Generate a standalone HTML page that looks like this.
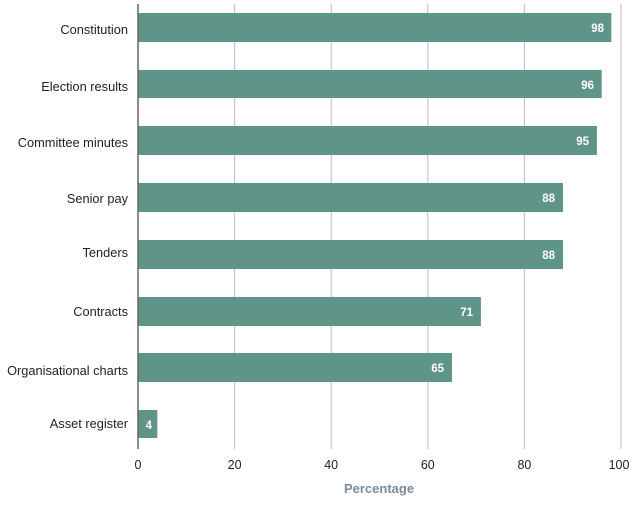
<!DOCTYPE html>
<html><head><style>body{margin:0;background:#fff}</style></head><body>
<svg width="638" height="510" xmlns="http://www.w3.org/2000/svg" font-family="Liberation Sans, sans-serif">
<g stroke="#c8c8c8" stroke-width="1.2">
<line x1="234.6" y1="4" x2="234.6" y2="449"/>
<line x1="331.2" y1="4" x2="331.2" y2="449"/>
<line x1="427.8" y1="4" x2="427.8" y2="449"/>
<line x1="524.4" y1="4" x2="524.4" y2="449"/>
<line x1="621" y1="4" x2="621" y2="449"/>
</g>
<g fill="#5f9589">
<rect x="138" y="13" width="473.3" height="29"/>
<rect x="138" y="70" width="463.7" height="28"/>
<rect x="138" y="126" width="458.9" height="29"/>
<rect x="138" y="183" width="425" height="29"/>
<rect x="138" y="240" width="425" height="29"/>
<rect x="138" y="297" width="342.9" height="29"/>
<rect x="138" y="353" width="314" height="29"/>
<rect x="138" y="410" width="19.3" height="28"/>
</g>
<line x1="138" y1="4" x2="138" y2="449" stroke="#666" stroke-width="1.5"/>
<g fill="#fff" font-size="11.5" font-weight="bold" text-anchor="end">
<text x="604" y="32">98</text>
<text x="594" y="89">96</text>
<text x="589" y="145">95</text>
<text x="555" y="202">88</text>
<text x="555" y="259">88</text>
<text x="473" y="316">71</text>
<text x="444" y="372">65</text>
<text x="152" y="429">4</text>
</g>
<g fill="#222" font-size="12.8" text-anchor="end">
<text x="128" y="34">Constitution</text>
<text x="128" y="91">Election results</text>
<text x="128" y="147">Committee minutes</text>
<text x="128" y="203">Senior pay</text>
<text x="128" y="257">Tenders</text>
<text x="128" y="316">Contracts</text>
<text x="128" y="375">Organisational charts</text>
<text x="128" y="428">Asset register</text>
</g>
<g fill="#222" font-size="12.5" text-anchor="middle">
<text x="138" y="469">0</text>
<text x="234.6" y="469">20</text>
<text x="331.2" y="469">40</text>
<text x="427.8" y="469">60</text>
<text x="524.4" y="469">80</text>
<text x="619" y="469">100</text>
</g>
<text x="379" y="493" font-size="13" font-weight="bold" fill="#7a8a9c" text-anchor="middle">Percentage</text>
</svg>
</body></html>
